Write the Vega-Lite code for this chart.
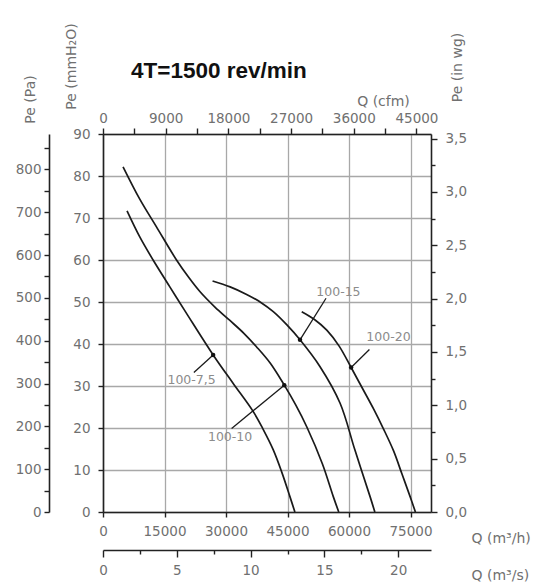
{
  "$schema": "https://vega.github.io/schema/vega-lite/v6.json",
  "width": 328,
  "height": 378,
  "autosize": {"type": "none"},
  "padding": {"left": 103, "top": 134, "right": 119, "bottom": 71},
  "background": "white",
  "title": {"text": "4T=1500 rev/min", "anchor": "start", "frame": "group", "dx": 28, "dy": 64, "font": "Liberation Sans", "fontSize": 22.5, "fontWeight": "bold", "color": "#111111"},
  "config": {
    "view": {"stroke": null},
    "axis": {"labelFont": "DejaVu Sans", "titleFont": "DejaVu Sans", "labelColor": "#707070", "titleColor": "#707070", "labelFontSize": 13.5, "titleFontSize": 14, "titleFontWeight": "normal", "domainColor": "#222222", "tickColor": "#222222", "domainWidth": 1.6, "tickWidth": 1.4, "gridColor": "#a8a8a8", "gridWidth": 1.3, "gridOpacity": 1, "labelOverlap": false, "labelFlush": false}
  },
  "datasets": {
    "curves": [
      {"curve": "100-7,5", "q": 5860, "p": 71.7}, {"curve": "100-7,5", "q": 8970, "p": 65.5}, {"curve": "100-7,5", "q": 12220, "p": 60.0}, {"curve": "100-7,5", "q": 16300, "p": 53.6}, {"curve": "100-7,5", "q": 20370, "p": 47.3}, {"curve": "100-7,5", "q": 26870, "p": 37.4}, {"curve": "100-7,5", "q": 31760, "p": 30.6}, {"curve": "100-7,5", "q": 36650, "p": 23.9}, {"curve": "100-7,5", "q": 39000, "p": 19.8}, {"curve": "100-7,5", "q": 41530, "p": 14.8}, {"curve": "100-7,5", "q": 43600, "p": 9.5}, {"curve": "100-7,5", "q": 45610, "p": 3.6}, {"curve": "100-7,5", "q": 46800, "p": 0},
      {"curve": "100-10", "q": 4890, "p": 82.2}, {"curve": "100-10", "q": 8970, "p": 74.5}, {"curve": "100-10", "q": 13040, "p": 67.9}, {"curve": "100-10", "q": 17930, "p": 60.0}, {"curve": "100-10", "q": 20800, "p": 56.0}, {"curve": "100-10", "q": 23620, "p": 52.5}, {"curve": "100-10", "q": 27300, "p": 48.8}, {"curve": "100-10", "q": 30950, "p": 45.6}, {"curve": "100-10", "q": 34300, "p": 42.6}, {"curve": "100-10", "q": 37470, "p": 39.3}, {"curve": "100-10", "q": 40900, "p": 35.3}, {"curve": "100-10", "q": 44220, "p": 30.2}, {"curve": "100-10", "q": 47000, "p": 25.5}, {"curve": "100-10", "q": 49690, "p": 20.3}, {"curve": "100-10", "q": 53500, "p": 11.5}, {"curve": "100-10", "q": 56190, "p": 3.6}, {"curve": "100-10", "q": 57500, "p": 0},
      {"curve": "100-15", "q": 26720, "p": 55.0}, {"curve": "100-15", "q": 31000, "p": 53.6}, {"curve": "100-15", "q": 35030, "p": 51.8}, {"curve": "100-15", "q": 38500, "p": 49.9}, {"curve": "100-15", "q": 41530, "p": 47.7}, {"curve": "100-15", "q": 44800, "p": 44.6}, {"curve": "100-15", "q": 48050, "p": 41.0}, {"curve": "100-15", "q": 52940, "p": 34.6}, {"curve": "100-15", "q": 57830, "p": 25.9}, {"curve": "100-15", "q": 61430, "p": 14.8}, {"curve": "100-15", "q": 65160, "p": 3.6}, {"curve": "100-15", "q": 66300, "p": 0},
      {"curve": "100-20", "q": 48470, "p": 47.7}, {"curve": "100-20", "q": 51500, "p": 45.9}, {"curve": "100-20", "q": 54580, "p": 43.3}, {"curve": "100-20", "q": 57600, "p": 39.5}, {"curve": "100-20", "q": 60520, "p": 34.4}, {"curve": "100-20", "q": 63300, "p": 29.4}, {"curve": "100-20", "q": 65960, "p": 24.6}, {"curve": "100-20", "q": 68400, "p": 19.8}, {"curve": "100-20", "q": 70850, "p": 14.6}, {"curve": "100-20", "q": 72900, "p": 9.1}, {"curve": "100-20", "q": 74930, "p": 3.6}, {"curve": "100-20", "q": 76200, "p": 0}
    ],
    "callouts": [
      {"curve": "100-7,5", "q": 26870, "p": 37.4, "q2": 22160, "p2": 33.2, "lq": 21600, "lp": 31.4},
      {"curve": "100-10", "q": 44220, "p": 30.2, "q2": 31370, "p2": 19.9, "lq": 31000, "lp": 17.9},
      {"curve": "100-15", "q": 48050, "p": 41.0, "q2": 54400, "p2": 50.9, "lq": 57420, "lp": 52.5},
      {"curve": "100-20", "q": 60520, "p": 34.4, "q2": 64980, "p2": 38.7, "lq": 69630, "lp": 41.6}
    ],
    "axisdummy": [{"pa": 0, "w": 0, "c": 0, "s": 0}]
  },
  "layer": [
    {
      "layer": [
        {
          "data": {"name": "curves"},
          "mark": {"type": "line", "interpolate": "catmull-rom", "color": "#1a1a1a", "strokeWidth": 1.7},
          "encoding": {
            "x": {"field": "q", "type": "quantitative", "scale": {"domain": [0, 80000], "nice": false, "zero": false},
              "axis": {"orient": "bottom", "values": [0, 7500, 15000, 22500, 30000, 37500, 45000, 52500, 60000, 67500, 75000], "labelExpr": "datum.value % 15000 === 0 ? format(datum.value, 'd') : ''", "grid": true, "tickSize": 5, "labelPadding": 7, "title": "Q (m³/h)", "titleX": 368, "titleY": 26, "titleAlign": "left", "titleBaseline": "middle", "titleAngle": 0}},
            "y": {"field": "p", "type": "quantitative", "scale": {"domain": [0, 90], "nice": false, "zero": false},
              "axis": {"orient": "left", "values": [0, 5, 10, 15, 20, 25, 30, 35, 40, 45, 50, 55, 60, 65, 70, 75, 80, 85, 90], "labelExpr": "datum.value % 10 === 0 ? datum.label : ''", "tickOpacity": {"condition": {"test": "datum.value % 10 === 0", "value": 1}, "value": 0}, "grid": true, "tickSize": 5, "labelPadding": 8, "title": "Pe (mmH₂O)", "titleX": -32, "titleY": -68, "titleAngle": 270, "titleAlign": "center", "titleBaseline": "middle"}},
            "detail": {"field": "curve", "type": "nominal"}
          }
        },
        {
          "data": {"name": "callouts"},
          "mark": {"type": "rule", "color": "#1a1a1a", "strokeWidth": 1.3},
          "encoding": {
            "x": {"field": "q", "type": "quantitative"},
            "y": {"field": "p", "type": "quantitative"},
            "x2": {"field": "q2"},
            "y2": {"field": "p2"}
          }
        },
        {
          "data": {"name": "callouts"},
          "mark": {"type": "point", "filled": true, "color": "#111111", "size": 20, "opacity": 1},
          "encoding": {
            "x": {"field": "q", "type": "quantitative"},
            "y": {"field": "p", "type": "quantitative"}
          }
        },
        {
          "data": {"name": "callouts"},
          "mark": {"type": "text", "font": "DejaVu Sans", "fontSize": 12.5, "color": "#8c8c8c", "align": "center", "baseline": "middle"},
          "encoding": {
            "x": {"field": "lq", "type": "quantitative"},
            "y": {"field": "lp", "type": "quantitative"},
            "text": {"field": "curve", "type": "nominal"}
          }
        }
      ]
    },
    {
      "data": {"name": "axisdummy"},
      "mark": {"type": "point", "opacity": 0},
      "encoding": {
        "y": {"field": "pa", "type": "quantitative", "scale": {"domain": [0, 882.6], "nice": false, "zero": false},
          "axis": {"orient": "left", "offset": 54, "values": [0, 50, 100, 150, 200, 250, 300, 350, 400, 450, 500, 550, 600, 650, 700, 750, 800, 850], "labelExpr": "datum.value % 100 === 0 ? datum.label : ''", "grid": false, "tickSize": 5, "labelPadding": 3, "title": "Pe (Pa)", "titleX": -19, "titleY": -35, "titleAngle": 270, "titleAlign": "center", "titleBaseline": "middle"}}
      }
    },
    {
      "data": {"name": "axisdummy"},
      "mark": {"type": "point", "opacity": 0},
      "encoding": {
        "y": {"field": "w", "type": "quantitative", "scale": {"domain": [0, 3.5433], "nice": false, "zero": false},
          "axis": {"orient": "right", "values": [0, 0.25, 0.5, 0.75, 1, 1.25, 1.5, 1.75, 2, 2.25, 2.5, 2.75, 3, 3.25, 3.5], "labelExpr": "(datum.value * 2) % 1 === 0 ? replace(format(datum.value, '.1f'), '.', ',') : ''", "tickSize": {"condition": {"test": "(datum.value * 2) % 1 === 0", "value": 6}, "value": 4}, "grid": false, "labelPadding": 8, "title": "Pe (in wg)", "titleX": 26, "titleY": -67, "titleAngle": 270, "titleAlign": "center", "titleBaseline": "middle"}}
      }
    },
    {
      "data": {"name": "axisdummy"},
      "mark": {"type": "point", "opacity": 0},
      "encoding": {
        "x": {"field": "c", "type": "quantitative", "scale": {"domain": [0, 47086], "nice": false, "zero": false},
          "axis": {"orient": "top", "values": [0, 4500, 9000, 13500, 18000, 22500, 27000, 31500, 36000, 40500, 45000], "labelExpr": "datum.value % 9000 === 0 ? format(datum.value, 'd') : ''", "grid": false, "tickSize": 6, "labelPadding": 3, "title": "Q (cfm)", "titleX": 280, "titleY": -33, "titleAngle": 0, "titleAlign": "center", "titleBaseline": "middle"}}
      }
    },
    {
      "data": {"name": "axisdummy"},
      "mark": {"type": "point", "opacity": 0},
      "encoding": {
        "x": {"field": "s", "type": "quantitative", "scale": {"domain": [0, 22.222], "nice": false, "zero": false},
          "axis": {"orient": "bottom", "offset": 38, "values": [0, 2.5, 5, 7.5, 10, 12.5, 15, 17.5, 20], "labelExpr": "datum.value % 5 === 0 ? datum.label : ''", "tickSize": {"condition": {"test": "datum.value % 5 === 0", "value": 7}, "value": 4}, "grid": false, "labelPadding": 6, "title": "Q (m³/s)", "titleX": 368, "titleY": 25, "titleAlign": "left", "titleBaseline": "middle", "titleAngle": 0}}
      }
    }
  ],
  "resolve": {"scale": {"x": "independent", "y": "independent"}}
}
